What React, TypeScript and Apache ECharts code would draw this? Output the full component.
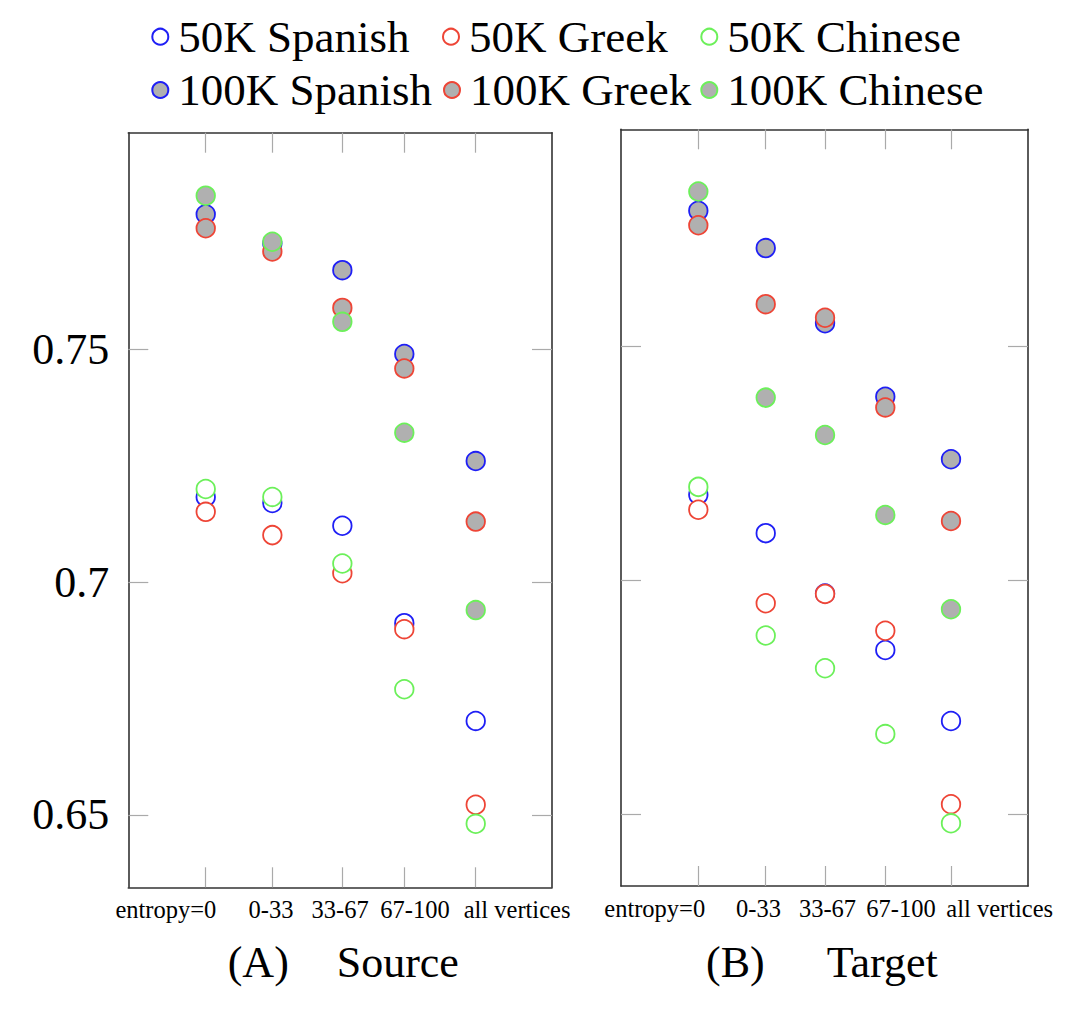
import React, { useEffect, useRef } from "react";
import * as echarts from "echarts";

// ---- data ----
const categories = ["entropy=0", "0-33", "33-67", "67-100", "all vertices"];
// category positions along each panel's x axis
const xPosA = [0, 0.987, 2.024, 2.942, 4];
const xPosB = [0, 1.067, 2.006, 2.96, 4];
const yTicks = [0.65, 0.7, 0.75];

const seriesNames = [
  "50K Spanish",
  "50K Greek",
  "50K Chinese",
  "100K Spanish",
  "100K Greek",
  "100K Chinese",
];

// (A) Source
const spanish50A = [0.7183, 0.717, 0.7121, 0.6912, 0.6702];
const greek50A = [0.7151, 0.7101, 0.7019, 0.6899, 0.6522];
const chinese50A = [0.72, 0.7183, 0.704, 0.677, 0.6481];
const spanish100A = [0.779, 0.7727, 0.767, 0.749, 0.726];
const greek100A = [0.776, 0.771, 0.7589, 0.7459, 0.713];
const chinese100A = [0.783, 0.7731, 0.7559, 0.7321, 0.694];

// (B) Target
const spanish50B = [0.7183, 0.7101, 0.6972, 0.6851, 0.6699];
const greek50B = [0.7151, 0.6951, 0.6971, 0.6892, 0.6521];
const chinese50B = [0.72, 0.6882, 0.6812, 0.6671, 0.648];
const spanish100B = [0.7791, 0.7711, 0.755, 0.7393, 0.7259];
const greek100B = [0.776, 0.7591, 0.7562, 0.737, 0.7127];
const chinese100B = [0.7832, 0.7391, 0.7311, 0.714, 0.6938];

const panelTitles = [
  ["(A)", "Source"],
  ["(B)", "Target"],
];

// ---- layout / style ----
const BLUE = "#1f1ff5";
const RED = "#ee4536";
const GREEN = "#6cf05a";
const GRAY = "#b0b0b0";
const colors = [BLUE, RED, GREEN, BLUE, RED, GREEN];
const FONT = "'Liberation Serif', 'Times New Roman', serif";

// label centre positions (axis units)
const labelPosA = [-0.591, 0.967, 1.99, 3.101, 4.612];
const labelPosB = [-0.69, 0.953, 2.045, 3.209, 4.771];

export default function App() {
  const ref = useRef<HTMLDivElement>(null);

  useEffect(() => {
    if (!ref.current) return;
    const chart = echarts.init(ref.current, null, { renderer: "svg" });

    const valsA = [spanish50A, greek50A, chinese50A, spanish100A, greek100A, chinese100A];
    const valsB = [spanish50B, greek50B, chinese50B, spanish100B, greek100B, chinese100B];

    const grids = [
      { left: 128.3, top: 132.7, width: 423.7, height: 754.6 },
      { left: 621, top: 129.3, width: 407, height: 756.7 },
    ];
    const xRanges = [
      [-1.147, 5.13],
      [-1.224, 5.219],
    ];
    const yRanges = [
      [0.63447, 0.79652],
      [0.63459, 0.79652],
    ];
    const xPos = [xPosA, xPosB];
    const labelPos = [labelPosA, labelPosB];

    const lineStyle = { color: "#333", width: 1.6 };
    const tickStyle = { color: "#aaa", width: 1.2 };

    const xAxis: any[] = [];
    const yAxis: any[] = [];
    [0, 1].forEach((g) => {
      const lp = labelPos[g];
      xAxis.push({
        type: "value",
        gridIndex: g,
        position: "bottom",
        min: xRanges[g][0],
        max: xRanges[g][1],
        axisLine: { show: true, onZero: false, lineStyle },
        axisTick: { show: true, inside: true, length: 20, lineStyle: tickStyle, customValues: xPos[g] },
        axisLabel: {
          show: true,
          customValues: lp,
          margin: 22,
          verticalAlign: "middle",
          fontFamily: FONT,
          fontSize: 24.5,
          color: "#000",
          formatter: (v: number) => {
            let best = 0;
            lp.forEach((p, i) => {
              if (Math.abs(p - v) < Math.abs(lp[best] - v)) best = i;
            });
            return categories[best];
          },
        },
        splitLine: { show: false },
      });
      xAxis.push({
        type: "value",
        gridIndex: g,
        position: "top",
        min: xRanges[g][0],
        max: xRanges[g][1],
        axisLine: { show: true, onZero: false, lineStyle },
        axisTick: { show: true, inside: true, length: 20, lineStyle: tickStyle, customValues: xPos[g] },
        axisLabel: { show: false },
        splitLine: { show: false },
      });
      yAxis.push({
        type: "value",
        gridIndex: g,
        position: "left",
        min: yRanges[g][0],
        max: yRanges[g][1],
        axisLine: { show: true, onZero: false, lineStyle },
        axisTick: { show: true, inside: true, length: 20, lineStyle: tickStyle, customValues: yTicks },
        axisLabel: {
          show: g === 0,
          customValues: yTicks,
          margin: 19,
          fontFamily: FONT,
          fontSize: 44,
          color: "#000",
        },
        splitLine: { show: false },
      });
      yAxis.push({
        type: "value",
        gridIndex: g,
        position: "right",
        min: yRanges[g][0],
        max: yRanges[g][1],
        axisLine: { show: true, onZero: false, lineStyle },
        axisTick: { show: true, inside: true, length: 20, lineStyle: tickStyle, customValues: yTicks },
        axisLabel: { show: false },
        splitLine: { show: false },
      });
    });

    const series: any[] = [];
    [valsA, valsB].forEach((vals, g) => {
      vals.forEach((arr, s) => {
        series.push({
          type: "scatter",
          name: seriesNames[s],
          xAxisIndex: g * 2,
          yAxisIndex: g * 2,
          symbol: "circle",
          symbolSize: 18.5,
          itemStyle: {
            color: s < 3 ? "#ffffff" : GRAY,
            borderColor: colors[s],
            borderWidth: 1.8,
            opacity: 1,
          },
          emphasis: { disabled: true },
          data: arr.map((v, i) => [xPos[g][i], v]),
        });
      });
    });

    const legendPos = [
      [151.3, 11.7],
      [442, 11.7],
      [700.3, 11.7],
      [151.3, 65],
      [443, 65],
      [700.3, 65],
    ];
    const legend = seriesNames.map((name, i) => ({
      data: [name],
      left: legendPos[i][0],
      top: legendPos[i][1],
      padding: 0,
      itemWidth: 26,
      itemHeight: 16,
      icon: "circle",
      selectedMode: false,
      textStyle: { fontFamily: FONT, fontSize: 45, color: "#000", lineHeight: 50 },
    }));

    const titleX = [
      [227.7, 336.7],
      [706, 826.7],
    ];
    const graphic: any[] = [];
    panelTitles.forEach((pair, g) => {
      pair.forEach((t, k) => {
        graphic.push({
          type: "text",
          x: titleX[g][k],
          y: 962,
          style: {
            text: t,
            fill: "#000",
            font: `44px ${FONT}`,
            textAlign: "left",
            textVerticalAlign: "middle",
          },
        });
      });
    });

    chart.setOption({
      animation: false,
      backgroundColor: "#fff",
      grid: grids,
      xAxis,
      yAxis,
      legend,
      series,
      graphic,
    });

    return () => chart.dispose();
  }, []);

  return (
    <div
      ref={ref}
      style={{ position: "absolute", left: 0, top: 0, width: 1070, height: 1020 }}
    />
  );
}
